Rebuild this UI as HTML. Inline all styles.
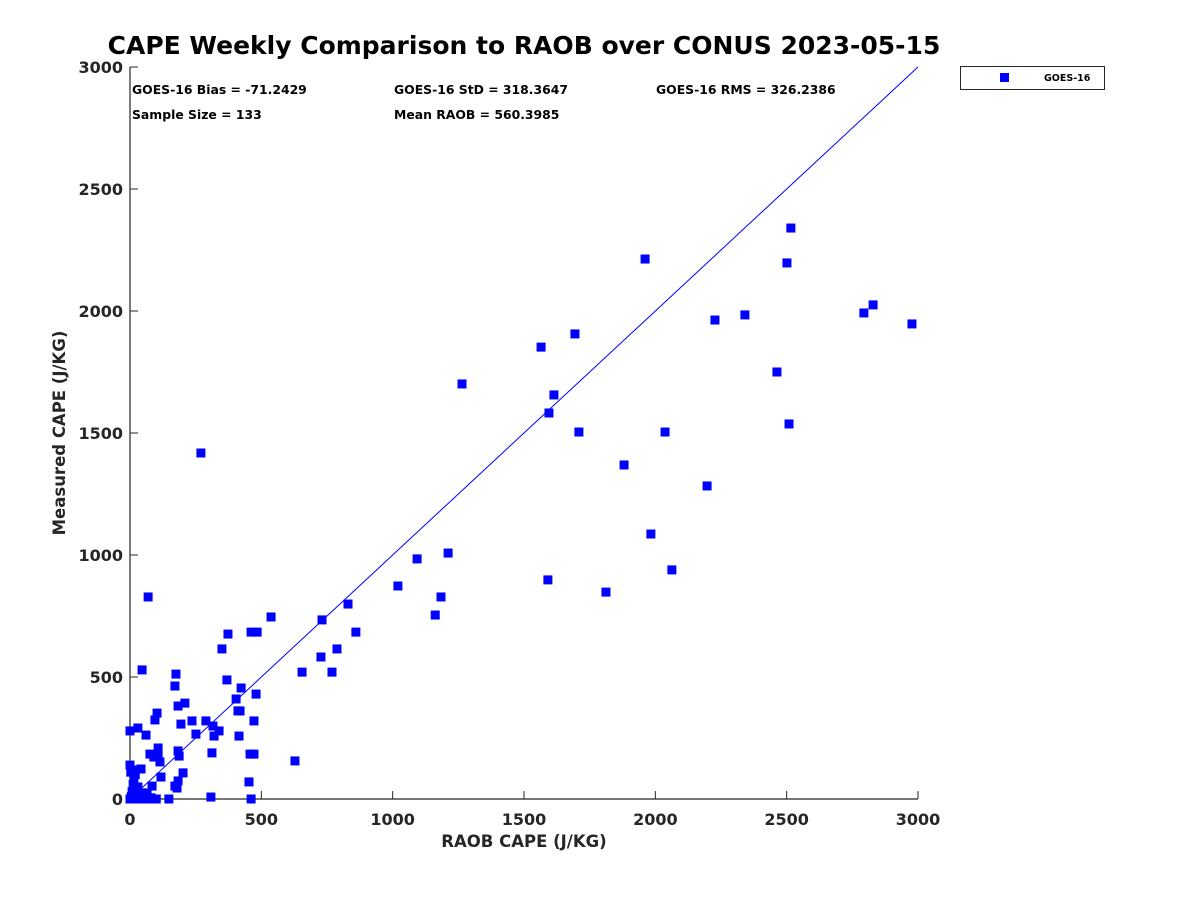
<!DOCTYPE html>
<html><head><meta charset="utf-8"><style>
body{margin:0;background:#fff}
svg text{font-family:"DejaVu Sans","Liberation Sans",sans-serif;font-weight:bold;fill:#262626}
</style></head><body>
<svg id="chart" width="1200" height="900">
<rect width="1200" height="900" fill="#fff"/>
<text x="524" y="54" text-anchor="middle" font-size="25" style="fill:#000">CAPE Weekly Comparison to RAOB over CONUS 2023-05-15</text>
<g id="axes"></g>
<g id="marks"></g>
<g font-size="12.4">
<text x="132" y="94" style="fill:#000">GOES-16 Bias = -71.2429</text>
<text x="394" y="94" style="fill:#000">GOES-16 StD = 318.3647</text>
<text x="656" y="94" style="fill:#000">GOES-16 RMS = 326.2386</text>
<text x="132" y="119" style="fill:#000">Sample Size = 133</text>
<text x="394" y="119" style="fill:#000">Mean RAOB = 560.3985</text>
</g>
<g>
<rect x="960.5" y="66.5" width="144" height="23" fill="#fff" stroke="#262626" stroke-width="1"/>
<rect x="1000" y="73" width="9" height="9" fill="#0000ff"/>
<text x="1044" y="81" font-size="9.5" style="fill:#000">GOES-16</text>
</g>
<text x="524" y="847" text-anchor="middle" font-size="16.5">RAOB CAPE (J/KG)</text>
<text transform="translate(65,433) rotate(-90)" text-anchor="middle" font-size="16.5">Measured CAPE (J/KG)</text>
</svg>
<script>
const xTicks=[0,500,1000,1500,2000,2500,3000];
const yTicks=[0,500,1000,1500,2000,2500,3000];
const raob=[69,270,46,175,171,373,350,461,484,537,369,183,209,103,95,194,251,236,289,316,339,320,404,423,411,419,480,472,415,312,0,30,61,183,187,107,107,76,114,91,202,118,183,179,171,84,0,19,42,15,30,148,308,453,461,457,472,628,655,727,731,769,788,830,860,1020,1093,1162,1184,1211,1264,1565,1694,1614,1595,1709,1591,1812,1881,1961,1983,2037,2063,2197,2227,2341,2463,2501,2516,2509,2794,2829,2977,0,5,10,15,20,25,30,35,40,45,50,55,60,70,80,90,100,12,8,20,3,28,65,38];
const goes=[828,1418,529,512,463,676,615,684,684,746,488,381,393,352,324,307,266,320,320,299,279,258,410,455,361,361,430,320,258,189,279,291,262,197,176,209,176,184,152,172,107,90,74,45,53,53,139,119,123,78,49,0,8,70,0,184,184,156,520,582,734,520,615,799,684,873,984,754,828,1008,1701,1852,1906,1656,1582,1504,898,848,1369,2213,1086,1504,939,1283,1963,1984,1750,2197,2340,1537,1992,2025,1947,0,10,0,20,5,40,0,15,0,25,5,0,10,0,5,0,0,60,30,100,110,0,25,10];
const NS='http://www.w3.org/2000/svg';
const X0=130,X1=918,Y0=799,Y1=67;
const sx=v=>X0+(v/3000)*(X1-X0);
const sy=v=>Y0-(v/3000)*(Y0-Y1);
const axes=document.getElementById('axes'),marks=document.getElementById('marks');
function mk(tag,attrs,parent){const e=document.createElementNS(NS,tag);for(const k in attrs)e.setAttribute(k,attrs[k]);parent.appendChild(e);return e;}
let a=mk('path',{d:`M${X0} ${Y1}V${Y0}H${X1}`,fill:'none',stroke:'#262626','stroke-width':1.2},axes);


xTicks.forEach(t=>{
  const l=mk('line',{x1:sx(t),x2:sx(t),y1:Y0,y2:Y0-8,stroke:'#262626'},axes);
  
  
  const tx=mk('text',{x:sx(t),y:Y0+26,'text-anchor':'middle','font-size':16},axes);
  tx.textContent=t;
  
  
});
yTicks.forEach(t=>{
  const l=mk('line',{x1:X0,x2:X0+8,y1:sy(t),y2:sy(t),stroke:'#262626'},axes);
  
  
  const tx=mk('text',{x:X0-7,y:sy(t)+6,'text-anchor':'end','font-size':16},axes);
  tx.textContent=t;
  
  
});
const ln=mk('line',{x1:sx(0),y1:sy(0),x2:sx(3000),y2:sy(3000),stroke:'#0000ff','stroke-width':1},marks);


raob.forEach((r,i)=>{
  const p=mk('rect',{x:sx(r)-4.5,y:sy(goes[i])-4.5,width:9,height:9,fill:'#0000ff'},marks);
  
  
});
</script>
</body></html>
